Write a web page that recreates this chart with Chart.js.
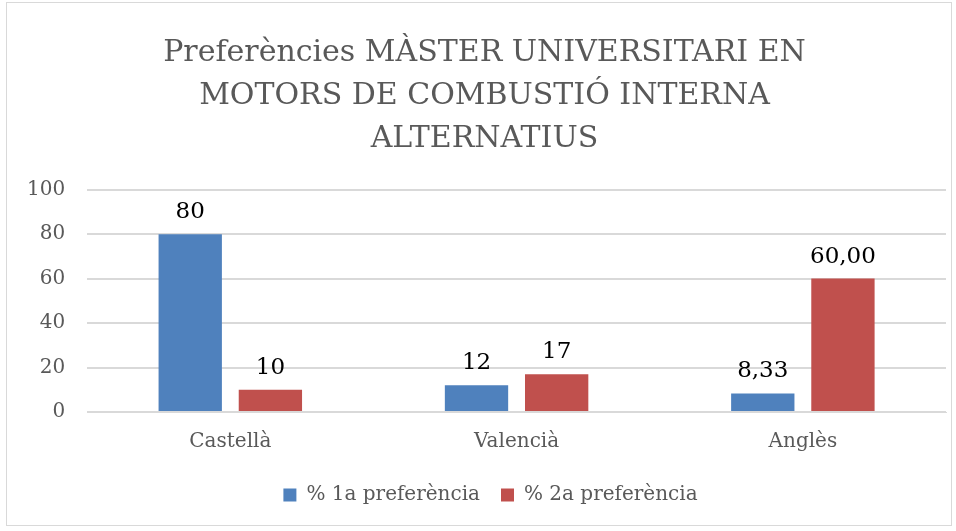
<!DOCTYPE html>
<html><head><meta charset="utf-8">
<script src="https://cdn.jsdelivr.net/npm/chart.js@4"></script>
<style>
html,body{margin:0;padding:0;background:#fff;}
#wrap{position:absolute;left:0;top:0;width:956px;height:531px;}
#box{position:absolute;left:6px;top:2px;width:946px;height:524px;border:1px solid #d9d9d9;box-sizing:border-box;}
</style></head><body>
<div id="wrap"><canvas id="c" width="956" height="531"></canvas></div>
<div id="box"></div>
<script>
const categories = ["Castellà", "Valencià", "Anglès"];
const series1Name = "% 1a preferència";
const series2Name = "% 2a preferència";
const series1 = [80, 12, 8.33];
const series2 = [10, 17, 60];
const labels1 = ["80", "12", "8,33"];
const labels2 = ["10", "17", "60,00"];
const yTicks = [0, 20, 40, 60, 80, 100];
const titleLines = ["Preferències MÀSTER UNIVERSITARI EN", "MOTORS DE COMBUSTIÓ INTERNA", "ALTERNATIUS"];

const FONT = "'DejaVu Serif', serif";
const dataLabels = {
  id: 'dataLabels',
  afterDatasetsDraw(chart) {
    const ctx = chart.ctx;
    ctx.save();
    ctx.font = "23px " + FONT;
    ctx.fillStyle = "#000";
    ctx.textAlign = "center";
    ctx.textBaseline = "alphabetic";
    const lbls = [labels1, labels2];
    chart.data.datasets.forEach((ds, i) => {
      chart.getDatasetMeta(i).data.forEach((bar, j) => {
        ctx.fillText(lbls[i][j], bar.x, bar.y - 16);
      });
    });
    ctx.restore();
  }
};
const shiftBoxes = {
  id: 'shiftBoxes',
  afterLayout(chart) {
    if (chart.legend) { chart.legend.left += 15; chart.legend.right += 15; }
    if (chart.titleBlock) { chart.titleBlock.left += 9; chart.titleBlock.right += 9; }
  }
};

new Chart(document.getElementById('c'), {
  type: 'bar',
  data: {
    labels: categories,
    datasets: [
      {label: series1Name, data: series1, backgroundColor: '#4f81bd', categoryPercentage: 0.56, barPercentage: 0.79},
      {label: series2Name, data: series2, backgroundColor: '#c0504d', categoryPercentage: 0.56, barPercentage: 0.79}
    ]
  },
  options: {
    responsive: false,
    animation: false,
    layout: {padding: {left: 5, right: 10, top: 24, bottom: 16}},
    plugins: {
      title: {display: true, text: titleLines, color: '#595959', font: {family: FONT, size: 30, weight: 'normal', lineHeight: 1.43}, padding: {top: 8, bottom: 29}},
      legend: {position: 'bottom', labels: {color: '#595959', font: {family: FONT, size: 20}, boxWidth: 13, boxHeight: 13, padding: 21}},
      tooltip: {enabled: false}
    },
    scales: {
      x: {grid: {display: false}, border: {color: '#d9d9d9'}, ticks: {color: '#595959', font: {family: FONT, size: 20}, padding: 10}},
      y: {min: 0, max: 100, afterBuildTicks: (s) => { s.ticks = yTicks.map(v => ({value: v})); },
          grid: {color: '#d9d9d9', lineWidth: 2, drawTicks: false}, border: {display: false},
          ticks: {color: '#595959', font: {family: FONT, size: 20}, padding: 22}}
    }
  },
  plugins: [dataLabels, shiftBoxes]
});
</script>
</body></html>
